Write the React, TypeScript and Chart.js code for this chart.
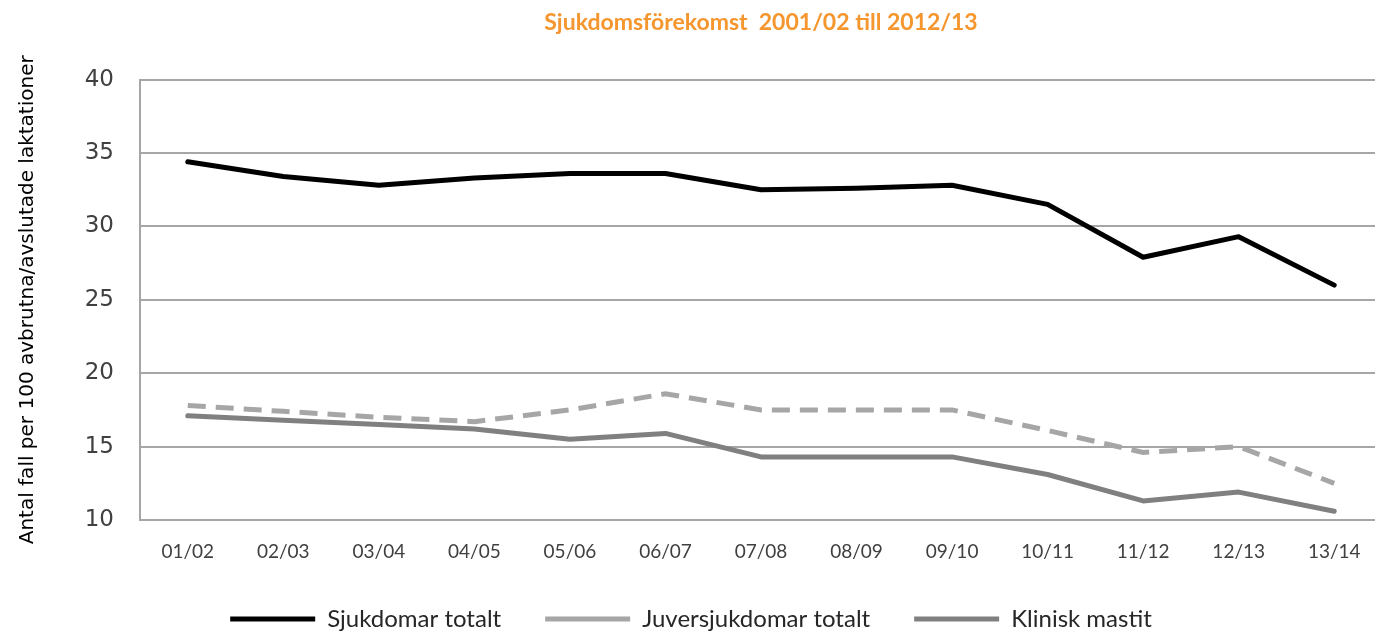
import React, { useEffect, useRef } from "react";
import { Chart, registerables } from "chart.js";

Chart.register(...registerables);

const categories = ["01/02", "02/03", "03/04", "04/05", "05/06", "06/07", "07/08", "08/09", "09/10", "10/11", "11/12", "12/13", "13/14"];
const sjukdomarTotalt = [34.4, 33.4, 32.8, 33.3, 33.6, 33.6, 32.5, 32.6, 32.8, 31.5, 27.9, 29.3, 26.0];
const juversjukdomarTotalt = [17.8, 17.4, 17.0, 16.7, 17.5, 18.6, 17.5, 17.5, 17.5, 16.1, 14.6, 15.0, 12.5];
const kliniskMastit = [17.1, 16.8, 16.5, 16.2, 15.5, 15.9, 14.3, 14.3, 14.3, 13.1, 11.3, 11.9, 10.6];
const seriesNames = ["Sjukdomar totalt", "Juversjukdomar totalt", "Klinisk mastit"];
const titleText = "Sjukdomsförekomst  2001/02 till 2012/13";
const yTitleText = "Antal fall per 100 avbrutna/avslutade laktationer";

export default function App() {
  const ref = useRef<HTMLCanvasElement | null>(null);
  useEffect(() => {
    if (!ref.current) return;
    const chart = new Chart(ref.current, {
      type: "line",
      data: {
        labels: categories,
        datasets: [
          {
            label: seriesNames[0],
            data: sjukdomarTotalt,
            borderColor: "#000000",
            backgroundColor: "#000000",
            borderWidth: 5,
            pointRadius: 0,
            tension: 0,
            borderJoinStyle: "round",
            borderCapStyle: "round",
          },
          {
            label: seriesNames[1],
            data: juversjukdomarTotalt,
            borderColor: "#a6a6a6",
            backgroundColor: "#a6a6a6",
            borderWidth: 5,
            borderDash: [18, 10],
            pointRadius: 0,
            tension: 0,
          },
          {
            label: seriesNames[2],
            data: kliniskMastit,
            borderColor: "#808080",
            backgroundColor: "#808080",
            borderWidth: 5,
            pointRadius: 0,
            tension: 0,
            borderJoinStyle: "round",
            borderCapStyle: "round",
          },
        ],
      },
      options: {
        animation: false,
        responsive: false,
        layout: { padding: { left: 0, right: 36, top: 0, bottom: 2 } },
        plugins: {
          title: {
            display: true,
            text: titleText,
            color: "#f5962f",
            fullSize: false,
            font: { family: "Lato", size: 23, weight: "bold" },
            padding: { top: 9, bottom: 43 },
          },
          legend: {
            position: "bottom",
            maxHeight: 75,
            labels: {
              usePointStyle: true,
              pointStyle: "line",
              pointStyleWidth: 85,
              boxHeight: 24,
              padding: 44,
              color: "#262626",
              font: { family: "Lato", size: 24 },
            },
          },
          tooltip: { enabled: false },
        },
        scales: {
          x: {
            offset: true,
            afterFit: (scale: any) => {
              scale.height = 43;
            },
            grid: { display: false, drawTicks: false },
            border: { display: false },
            ticks: {
              padding: 20,
              color: "#404040",
              font: { family: "Lato", size: 19 },
              maxRotation: 0,
            },
          },
          y: {
            min: 10,
            max: 40,
            afterFit: (scale: any) => {
              scale.width = 140;
            },
            grid: { color: "#a6a6a6", lineWidth: 2, drawTicks: false },
            border: { display: true, color: "#a6a6a6", width: 2 },
            ticks: {
              stepSize: 5,
              padding: 26,
              color: "#404040",
              font: { family: "DejaVu Sans", size: 23 },
            },
            title: {
              display: true,
              text: yTitleText,
              color: "#000000",
              font: { family: "DejaVu Sans", size: 20 },
              padding: { top: 16, bottom: 0 },
            },
          },
        },
      },
    });
    return () => chart.destroy();
  }, []);
  return (
    <div style={{ position: "absolute", left: 0, top: 0, width: 1375, height: 632, overflow: "hidden", background: "#fff" }}>
      <canvas ref={ref} width={1418} height={640} style={{ display: "block" }} />
    </div>
  );
}
